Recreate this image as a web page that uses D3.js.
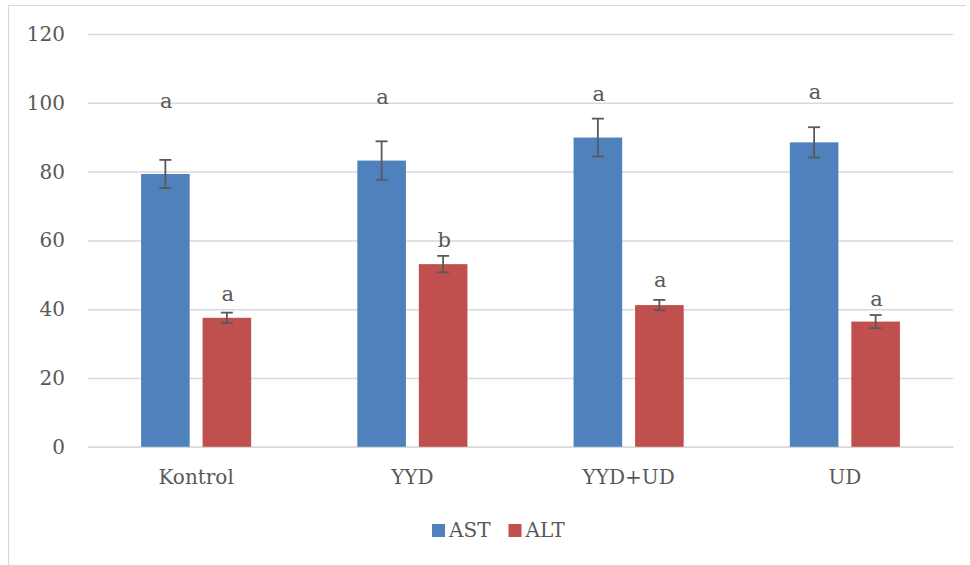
<!DOCTYPE html>
<html>
<head>
<meta charset="utf-8">
<script src="https://cdn.jsdelivr.net/npm/d3@7"></script>
<style>
  html, body { margin: 0; padding: 0; background: #fff; }
  svg { display: block; }
  text { font-family: "DejaVu Serif", "Liberation Serif", serif; fill: #595959; }
</style>
</head>
<body>
<svg id="chart" width="970" height="565"></svg>
<script>
// Group names and series
const groups = ["Kontrol", "YYD", "YYD+UD", "UD"];
const seriesNames = ["AST", "ALT"];
const seriesColors = ["#4F81BD", "#C0504D"];

// Means and error (±) per group
const astValues = [79.3, 83.2, 89.9, 88.5];
const astErrors = [4.1, 5.6, 5.5, 4.4];
const altValues = [37.5, 53.1, 41.2, 36.4];
const altErrors = [1.5, 2.4, 1.5, 1.9];

// Significance letters and the value level each one sits at
const astLetters = ["a", "a", "a", "a"];
const astLetterLevel = [98.5, 99.6, 100.5, 101.1];
const altLetters = ["a", "b", "a", "a"];
const altLetterLevel = [42.4, 58.1, 46.5, 40.9];

const yTicks = [0, 20, 40, 60, 80, 100, 120];

const svg = d3.select("#chart");
const W = 970, H = 565;
const plot = { left: 88, right: 953, top: 34, bottom: 446.8 };

// Chart frame (top and left edges)
svg.append("line").attr("x1", 8.5).attr("x2", 966).attr("y1", 5.5).attr("y2", 5.5)
  .attr("stroke", "#d9d9d9").attr("stroke-width", 1.2);
svg.append("line").attr("x1", 8.5).attr("x2", 8.5).attr("y1", 5.5).attr("y2", H)
  .attr("stroke", "#d9d9d9").attr("stroke-width", 1.2);

const y = d3.scaleLinear().domain([0, 120]).range([plot.bottom, plot.top]);
const x0 = d3.scaleBand().domain(groups).range([plot.left, plot.right]).padding(0);
const x1 = d3.scaleBand().domain(seriesNames).range([0, x0.bandwidth()])
  .paddingInner(0.21).paddingOuter(0.863);

// Gridlines
const yAxis = d3.axisLeft(y).tickValues(yTicks).tickSize(-(plot.right - plot.left)).tickPadding(23);
const gy = svg.append("g").attr("transform", `translate(${plot.left},0)`).call(yAxis);
gy.select(".domain").remove();
gy.selectAll(".tick line").attr("stroke", "#d9d9d9").attr("stroke-width", 1.5);
gy.selectAll(".tick text").attr("font-size", 20).style("fill", "#595959")
  .style("font-family", "DejaVu Serif, serif");

// Category axis
const xAxis = d3.axisBottom(x0).tickSize(0).tickPadding(23);
const gx = svg.append("g").attr("transform", `translate(0,${plot.bottom})`).call(xAxis);
gx.select(".domain").attr("stroke", "#d9d9d9").attr("stroke-width", 1.5);
gx.selectAll(".tick text").attr("font-size", 20).style("fill", "#595959")
  .style("font-family", "DejaVu Serif, serif");

const rows = groups.map((g, i) => ({
  group: g,
  items: [
    { s: "AST", v: astValues[i], e: astErrors[i], l: astLetters[i], lv: astLetterLevel[i], c: seriesColors[0] },
    { s: "ALT", v: altValues[i], e: altErrors[i], l: altLetters[i], lv: altLetterLevel[i], c: seriesColors[1] }
  ]
}));

const gGroups = svg.append("g").selectAll("g").data(rows).join("g")
  .attr("transform", d => `translate(${x0(d.group)},0)`);

const item = gGroups.selectAll("g.item").data(d => d.items).join("g").attr("class", "item");

// Bars
item.append("rect")
  .attr("x", d => x1(d.s))
  .attr("y", d => y(d.v))
  .attr("width", x1.bandwidth())
  .attr("height", d => y(0) - y(d.v))
  .attr("fill", d => d.c);

// Error bars
const cap = 6;
item.append("line")
  .attr("x1", d => x1(d.s) + x1.bandwidth() / 2)
  .attr("x2", d => x1(d.s) + x1.bandwidth() / 2)
  .attr("y1", d => y(d.v + d.e)).attr("y2", d => y(d.v - d.e))
  .attr("stroke", "#595959").attr("stroke-width", 1.8);
item.append("line")
  .attr("x1", d => x1(d.s) + x1.bandwidth() / 2 - cap)
  .attr("x2", d => x1(d.s) + x1.bandwidth() / 2 + cap)
  .attr("y1", d => y(d.v + d.e)).attr("y2", d => y(d.v + d.e))
  .attr("stroke", "#595959").attr("stroke-width", 1.8);
item.append("line")
  .attr("x1", d => x1(d.s) + x1.bandwidth() / 2 - cap)
  .attr("x2", d => x1(d.s) + x1.bandwidth() / 2 + cap)
  .attr("y1", d => y(d.v - d.e)).attr("y2", d => y(d.v - d.e))
  .attr("stroke", "#595959").attr("stroke-width", 1.8);

// Significance letters
item.append("text")
  .attr("x", d => x1(d.s) + x1.bandwidth() / 2 + 1)
  .attr("y", d => y(d.lv))
  .attr("text-anchor", "middle")
  .attr("font-size", 21)
  .text(d => d.l);

// Legend
const legend = svg.append("g").attr("transform", "translate(432,524)");
const legItems = [{ n: seriesNames[0], c: seriesColors[0], x: 0 }, { n: seriesNames[1], c: seriesColors[1], x: 76.5 }];
const li = legend.selectAll("g").data(legItems).join("g").attr("transform", d => `translate(${d.x},0)`);
li.append("rect").attr("width", 13).attr("height", 13).attr("fill", d => d.c);
li.append("text").attr("x", 17).attr("y", 13).attr("font-size", 20).text(d => d.n);
</script>
</body>
</html>
